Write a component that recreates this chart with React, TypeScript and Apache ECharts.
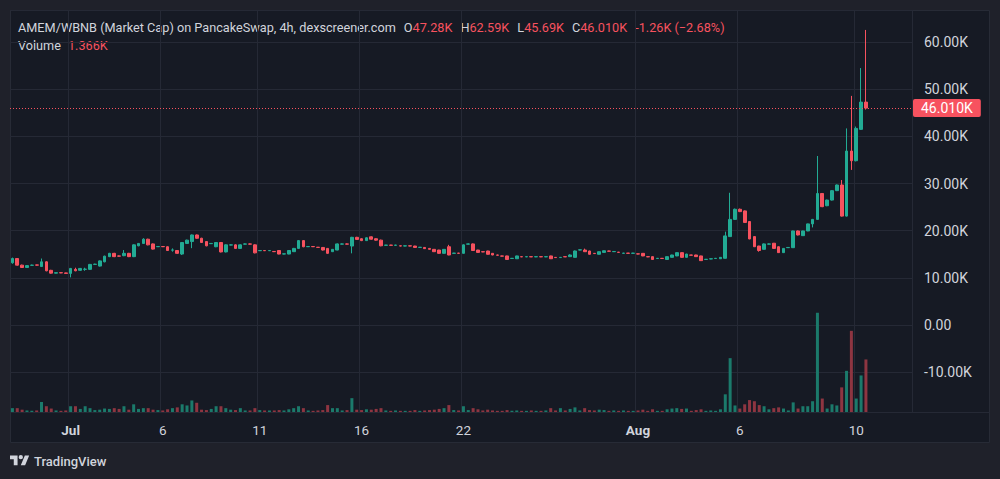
import React, { useEffect, useRef } from "react";
import * as echarts from "echarts";

// ---------- data ----------
const categories: string[] = Array.from({ length: 186 }, (_, i) => `bar${i}`);
const tickIndex = [12, 31, 51, 72, 93, 129, 150, 174];
const tickText = ["Jul", "6", "11", "16", "22", "Aug", "6", "10"];
const monthTicks = ["Jul", "Aug"];

// [open, close, low, high] in K
const ohlc: number[][] = [
  [13.2, 14.1, 13.0, 14.3], [14.1, 12.7, 12.6, 14.2], [12.7, 12.2, 12.1, 12.8], [12.2, 12.6, 12.1, 12.7],
  [12.65, 12.7, 12.6, 12.8], [12.75, 12.7, 12.6, 12.8], [12.4, 13.4, 12.3, 14.1], [13.4, 11.5, 11.4, 13.5],
  [11.6, 11.0, 10.9, 11.7], [11.0, 11.1, 10.95, 11.15], [11.1, 11.05, 11.0, 11.15], [11.05, 10.95, 10.9, 11.1],
  [10.95, 12.0, 10.1, 12.1], [11.8, 11.5, 11.4, 12.15], [11.6, 12.0, 11.5, 12.1], [11.8, 11.85, 11.5, 12.15],
  [11.8, 12.85, 11.7, 12.95], [12.85, 12.9, 12.8, 13.0], [12.5, 13.6, 12.4, 13.7], [13.4, 14.6, 13.3, 14.7],
  [14.5, 15.2, 14.4, 15.3], [15.2, 14.5, 14.4, 15.3], [14.65, 14.6, 14.5, 14.75], [14.7, 15.2, 14.6, 15.9],
  [15.2, 14.5, 14.4, 15.3], [14.5, 17.0, 14.4, 17.1], [16.8, 17.3, 16.7, 17.4], [17.3, 18.2, 17.2, 18.4],
  [18.2, 17.0, 16.9, 18.3], [17.2, 16.1, 16.0, 17.3], [16.6, 16.65, 16.55, 16.7], [16.65, 16.6, 16.55, 16.7],
  [16.6, 15.8, 15.7, 16.7], [15.88, 15.92, 15.55, 16.25], [15.8, 15.2, 15.1, 15.9], [15.05, 17.5, 14.85, 17.6],
  [17.3, 18.0, 17.2, 18.1], [17.7, 19.1, 16.3, 19.2], [19.1, 18.4, 18.3, 19.2], [18.4, 17.5, 17.4, 18.5],
  [17.7, 16.8, 16.7, 17.8], [17.25, 17.3, 17.2, 17.4], [16.6, 17.5, 16.5, 17.6], [17.5, 15.5, 15.4, 17.6],
  [15.5, 17.0, 15.4, 17.1], [16.95, 17.0, 16.9, 17.1], [17.0, 16.25, 16.2, 17.1], [16.25, 17.0, 16.2, 17.1],
  [17.15, 17.2, 17.1, 17.3], [17.2, 17.15, 17.1, 17.3], [17.0, 15.3, 15.2, 17.1], [15.75, 15.8, 15.7, 15.85],
  [15.8, 15.75, 15.7, 15.85], [15.75, 15.8, 15.7, 15.85], [15.6, 15.55, 15.5, 15.65], [15.8, 15.05, 15.0, 15.9],
  [15.05, 15.1, 15.0, 15.15], [15.05, 15.8, 15.0, 15.9], [15.55, 16.25, 15.5, 16.35], [16.25, 17.9, 16.2, 18.0],
  [17.9, 16.6, 16.5, 18.0], [16.6, 16.65, 16.55, 16.7], [16.65, 16.6, 16.55, 16.7], [16.5, 16.45, 16.4, 16.55],
  [16.45, 15.9, 15.8, 16.5], [16.25, 15.2, 15.1, 16.3], [15.55, 16.05, 15.5, 16.1], [15.9, 17.2, 15.85, 17.3],
  [17.15, 17.2, 17.1, 17.3], [17.2, 17.15, 17.1, 17.3], [16.75, 18.6, 15.2, 18.7], [18.6, 18.15, 18.1, 18.7],
  [18.3, 17.9, 17.8, 18.4], [17.9, 18.5, 17.85, 18.6], [18.7, 18.2, 18.1, 18.8], [18.3, 18.0, 17.9, 18.4],
  [18.0, 16.8, 16.7, 18.1], [16.9, 16.95, 16.85, 17.0], [16.95, 16.9, 16.85, 17.0], [16.9, 16.95, 16.85, 17.0],
  [16.8, 16.75, 16.7, 16.85], [16.75, 16.8, 16.7, 16.85], [16.8, 16.75, 16.7, 16.85], [16.75, 16.45, 16.4, 16.8],
  [16.45, 16.5, 16.4, 16.55], [16.45, 16.2, 16.15, 16.5], [16.25, 16.05, 16.0, 16.3], [16.05, 15.55, 15.5, 16.1],
  [15.9, 15.2, 15.1, 15.95], [15.2, 16.05, 15.15, 16.1], [16.6, 14.85, 14.8, 17.0], [15.2, 15.25, 15.15, 15.3],
  [15.25, 15.2, 15.15, 15.3], [15.2, 17.0, 15.15, 17.1], [17.15, 17.2, 17.1, 17.3], [17.2, 15.8, 15.7, 17.3],
  [15.9, 15.4, 15.35, 15.95], [15.55, 15.5, 15.45, 15.6], [15.7, 15.0, 14.95, 15.75], [15.2, 14.85, 14.8, 15.25],
  [14.85, 14.8, 14.75, 14.9], [14.65, 14.6, 14.55, 14.7], [14.65, 13.9, 13.85, 14.7], [14.1, 14.15, 14.05, 14.2],
  [14.05, 14.65, 14.0, 14.7], [14.5, 14.45, 14.4, 14.55], [14.45, 14.5, 14.4, 14.55], [14.5, 14.45, 14.4, 14.55],
  [14.45, 14.5, 14.4, 14.55], [14.5, 14.45, 14.4, 14.55], [14.45, 14.5, 14.4, 14.55], [14.65, 14.05, 14.0, 14.7],
  [14.35, 14.3, 14.25, 14.4], [14.3, 14.35, 14.25, 14.4], [14.5, 14.45, 14.4, 14.55], [14.5, 14.85, 14.45, 15.0],
  [14.35, 15.7, 14.3, 15.8], [15.9, 15.95, 15.85, 16.0], [15.9, 15.55, 15.5, 16.2], [15.7, 15.0, 14.95, 15.75],
  [15.2, 15.15, 15.1, 15.25], [15.0, 15.55, 14.95, 15.6], [15.4, 15.75, 15.35, 15.8], [15.7, 15.65, 15.6, 15.75],
  [15.55, 15.6, 15.5, 15.65], [15.45, 15.4, 15.35, 15.5], [15.2, 15.25, 15.15, 15.3], [15.25, 15.2, 15.15, 15.3],
  [15.2, 15.25, 15.15, 15.3], [15.1, 15.05, 15.0, 15.15], [15.2, 14.65, 14.6, 15.25], [14.5, 14.45, 14.4, 14.55],
  [14.5, 13.9, 13.85, 14.55], [14.1, 14.15, 14.05, 14.2], [14.15, 14.1, 14.05, 14.2], [13.9, 14.5, 13.85, 14.55],
  [14.35, 14.85, 14.3, 14.9], [14.65, 15.35, 14.6, 15.4], [15.35, 14.35, 14.3, 15.4], [14.35, 15.05, 14.3, 15.1],
  [14.85, 14.8, 14.75, 14.9], [14.85, 14.5, 14.45, 14.9], [14.65, 13.65, 13.6, 14.7], [13.9, 13.95, 13.85, 14.0],
  [14.0, 14.05, 13.95, 14.1], [14.1, 14.15, 14.05, 14.2], [14.05, 14.35, 14.0, 14.4], [14.15, 18.9, 14.1, 19.8],
  [18.75, 22.4, 18.7, 28.05], [22.4, 24.55, 22.3, 24.7], [24.55, 24.05, 23.95, 24.7], [24.2, 21.75, 21.7, 24.3],
  [21.95, 18.25, 18.2, 22.0], [18.75, 16.6, 16.55, 18.8], [16.75, 15.8, 15.55, 16.8], [16.05, 17.2, 16.0, 17.3],
  [17.15, 17.2, 17.1, 17.3], [17.35, 16.25, 16.2, 17.4], [16.6, 15.35, 15.3, 16.7], [15.35, 16.25, 15.3, 16.3],
  [16.4, 16.45, 16.35, 16.5], [16.4, 19.95, 16.35, 20.0], [19.95, 19.1, 19.0, 20.05], [18.95, 19.95, 18.9, 20.0],
  [19.95, 21.45, 19.9, 21.5], [21.45, 22.4, 20.7, 22.5], [22.4, 27.9, 22.3, 35.85], [27.9, 25.1, 25.0, 28.0],
  [25.3, 26.5, 25.2, 26.6], [26.5, 28.5, 26.4, 28.6], [28.5, 29.7, 28.4, 29.8], [29.7, 23.1, 23.0, 30.75],
  [23.1, 36.9, 23.0, 41.7], [36.9, 34.85, 32.9, 48.6], [34.85, 41.7, 34.7, 42.1], [41.5, 47.28, 41.4, 54.5],
  [47.28, 46.01, 45.69, 62.59],
];

// volume in K
const volume: number[] = [
  0.1, 0.1, 0.06, 0.04, 0.03, 0.04, 0.26, 0.15, 0.09, 0.04, 0.03, 0.04, 0.15, 0.15, 0.08, 0.15,
  0.1, 0.05, 0.06, 0.09, 0.08, 0.1, 0.08, 0.15, 0.06, 0.2, 0.08, 0.1, 0.1, 0.06, 0.05, 0.04,
  0.07, 0.1, 0.12, 0.2, 0.17, 0.3, 0.24, 0.06, 0.05, 0.08, 0.15, 0.15, 0.1, 0.06, 0.05, 0.1,
  0.04, 0.04, 0.1, 0.05, 0.04, 0.04, 0.04, 0.05, 0.04, 0.07, 0.1, 0.15, 0.1, 0.04, 0.03, 0.04,
  0.05, 0.18, 0.1, 0.1, 0.04, 0.05, 0.36, 0.06, 0.05, 0.07, 0.06, 0.08, 0.1, 0.04, 0.03, 0.04,
  0.03, 0.03, 0.03, 0.05, 0.03, 0.04, 0.05, 0.06, 0.08, 0.1, 0.18, 0.05, 0.04, 0.15, 0.05, 0.1,
  0.07, 0.04, 0.06, 0.04, 0.03, 0.03, 0.05, 0.03, 0.04, 0.03, 0.03, 0.04, 0.03, 0.03, 0.04, 0.1,
  0.04, 0.1, 0.04, 0.08, 0.12, 0.04, 0.1, 0.05, 0.04, 0.06, 0.05, 0.03, 0.04, 0.03, 0.04, 0.03,
  0.03, 0.04, 0.06, 0.03, 0.07, 0.03, 0.03, 0.07, 0.09, 0.1, 0.08, 0.09, 0.03, 0.05, 0.07, 0.03,
  0.04, 0.03, 0.07, 0.46, 1.4, 0.17, 0.09, 0.2, 0.31, 0.28, 0.18, 0.15, 0.07, 0.1, 0.12, 0.09,
  0.04, 0.25, 0.09, 0.15, 0.15, 0.28, 2.58, 0.35, 0.09, 0.2, 0.17, 0.64, 1.07, 2.11, 0.35, 0.95,
  1.366,
];

const titleText = "AMEM/WBNB (Market Cap) on PancakeSwap, 4h, dexscreener.com";
const ohlcLabels = ["O", "H", "L", "C"];
const ohlcValues = ["47.28K", "62.59K", "45.69K", "46.010K"];
const changeText = "-1.26K (\u22122.68%)";
const volumeLabel = "Volume";
const volumeValue = "1.366K";
const lastClose = 46.01;

// ---------- styles ----------
const FONT = "Roboto, 'Noto Sans', sans-serif";
const UP = "#22ab94";
const DOWN = "#f7525f";
const VOL_UP = "#1b7a6b";
const VOL_DOWN = "#8e3541";
const GRID = "#252935";
const TEXT = "#d1d4dc";
const BG_OUT = "#1f212a";
const BG_IN = "#161a24";

const LOGO_D =
  "M14 22H7V11H0V4h14v18zM28 22h-8l7.5-18h8L28 22zM24 7a4 4 0 1 1-8 0a4 4 0 1 1 8 0z";

let registered = false;
function ensureShapes() {
  if (registered) return;
  registered = true;
  echarts.graphic.registerShape("tvlogo", echarts.graphic.extendPath(LOGO_D, {}) as any);
}

export default function App() {
  const ref = useRef<HTMLDivElement>(null);

  useEffect(() => {
    if (!ref.current) return;
    ensureShapes();
    const chart = echarts.init(ref.current, undefined, { renderer: "svg" });

    const volData = volume.map((v, i) => ({
      value: v,
      itemStyle: { color: ohlc[i][1] >= ohlc[i][0] ? VOL_UP : VOL_DOWN },
    }));

    const SP = "{s| }";
    const headerRich = `{w|${titleText}}${SP}` +
      ohlcLabels.map((l, i) => `{w|${l}}{r|${ohlcValues[i]}}`).join(SP) +
      `${SP}{r|${changeText}}`;

    const option: any = {
      animation: false,
      backgroundColor: BG_OUT,
      textStyle: { fontFamily: FONT },
      grid: [
        { left: 10, right: 88, top: 10, bottom: 67 },
        { left: 10, right: 88, top: 312, bottom: 67 },
      ],
      xAxis: [
        {
          type: "category",
          gridIndex: 0,
          data: categories,
          axisLine: { show: false },
          axisTick: { show: false },
          axisLabel: { show: false },
          splitLine: {
            show: true,
            interval: (i: number) => tickIndex.includes(i),
            lineStyle: { color: GRID, width: 1 },
          },
        },
        {
          type: "category",
          gridIndex: 1,
          data: categories,
          axisLine: { show: false },
          axisTick: { show: false },
          splitLine: { show: false },
          axisLabel: {
            interval: (i: number) => tickIndex.includes(i),
            formatter: (_v: string, i: number) => {
              const k = tickIndex.indexOf(i);
              if (k < 0) return "";
              const t = tickText[k];
              return monthTicks.includes(t) ? `{m|${t}}` : `{d|${t}}`;
            },
            margin: 11,
            rich: {
              m: { fontSize: 13.5, fontWeight: "bold", color: TEXT, fontFamily: FONT },
              d: { fontSize: 13.5, color: TEXT, fontFamily: FONT },
            },
          },
        },
      ],
      yAxis: [
        {
          type: "value",
          gridIndex: 0,
          position: "right",
          min: -18.456,
          max: 66.82,
          splitNumber: 8,
          axisLine: { show: false },
          axisTick: { show: false },
          axisLabel: {
            showMinLabel: false,
            showMaxLabel: false,
            align: "left",
            margin: 12,
            color: TEXT,
            fontSize: 14,
            fontFamily: FONT,
            formatter: (v: number) => (v === 0 ? "0.00" : `${v.toFixed(2)}K`),
          },
          splitLine: { show: true, lineStyle: { color: GRID, width: 1 } },
        },
        { type: "value", gridIndex: 1, min: 0, max: 2.6, show: false },
      ],
      series: [
        {
          type: "candlestick",
          xAxisIndex: 0,
          yAxisIndex: 0,
          data: ohlc,
          barWidth: 3.2,
          itemStyle: {
            color: UP,
            color0: DOWN,
            borderColor: UP,
            borderColor0: DOWN,
            borderWidth: 1,
          },
          markLine: {
            silent: true,
            symbol: ["none", "none"],
            data: [{ yAxis: lastClose }],
            lineStyle: { color: DOWN, type: [1, 2], width: 1 },
            label: {
              show: true,
              position: "end",
              distance: 1,
              formatter: () => `${lastClose.toFixed(3)}K`,
              color: "#ffffff",
              backgroundColor: DOWN,
              padding: [2, 8, 2, 8],
              fontSize: 14,
              fontFamily: FONT,
              borderRadius: 2,
            },
          },
          z: 3,
        },
        {
          type: "bar",
          xAxisIndex: 1,
          yAxisIndex: 1,
          data: volData,
          barWidth: 3,
          z: 2,
        },
      ],
      graphic: [
        {
          type: "rect",
          z: -10,
          silent: true,
          shape: { x: 10.5, y: 10.5, width: 979, height: 432 },
          style: { fill: BG_IN, stroke: "#272b36", lineWidth: 1 },
        },
        {
          type: "line",
          z: 1,
          silent: true,
          shape: { x1: 10, y1: 412.5, x2: 990, y2: 412.5 },
          style: { stroke: GRID, lineWidth: 1 },
        },
        {
          type: "text",
          x: 18,
          y: 27,
          style: {
            text: headerRich,
            fill: TEXT,
            font: `12.7px ${FONT}`,
            verticalAlign: "middle",
            rich: {
              w: { fill: TEXT, fontSize: 12.7, fontFamily: FONT },
              r: { fill: DOWN, fontSize: 12.7, fontFamily: FONT },
              s: { fontSize: 12.7, fontFamily: FONT, width: 8 },
            },
          },
        },
        {
          type: "text",
          x: 18,
          y: 45,
          style: {
            text: `{w|${volumeLabel}}{s| }{r|${volumeValue}}`,
            fill: TEXT,
            font: `12.7px ${FONT}`,
            verticalAlign: "middle",
            rich: {
              w: { fill: TEXT, fontSize: 12.7, fontFamily: FONT },
              r: { fill: DOWN, fontSize: 12.7, fontFamily: FONT },
              s: { fontSize: 12.7, fontFamily: FONT, width: 7 },
            },
          },
        },
        {
          type: "tvlogo",
          x: 10,
          y: 453.4,
          scaleX: 0.54,
          scaleY: 0.54,
          style: { fill: TEXT },
        },
        {
          type: "text",
          x: 34,
          y: 461,
          style: {
            text: "TradingView",
            fill: TEXT,
            font: `500 13px ${FONT}`,
            verticalAlign: "middle",
          },
        },
      ],
    };

    chart.setOption(option);
    return () => chart.dispose();
  }, []);

  return (
    <div
      ref={ref}
      style={{ position: "fixed", left: 0, top: 0, width: 1000, height: 479 }}
    />
  );
}
